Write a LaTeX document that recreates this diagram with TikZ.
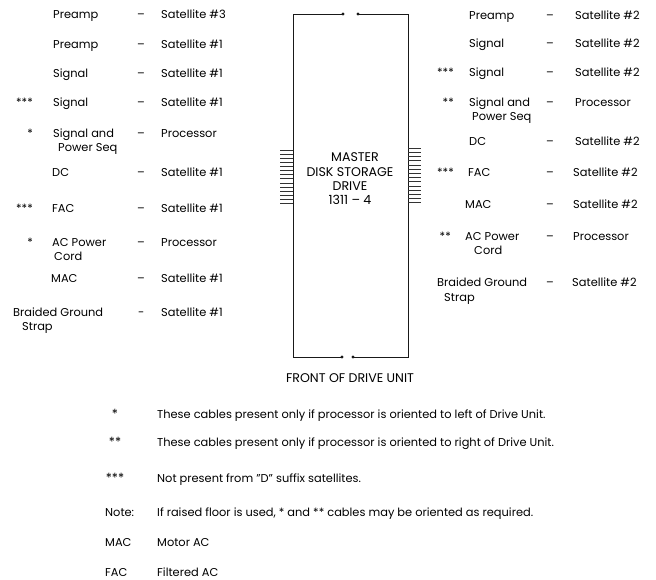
\documentclass[tikz,border=0pt]{standalone}
\usepackage{fontspec}
\setmainfont{Poppins}
\begin{document}
\begin{tikzpicture}[x=1pt,y=-1pt,
  txt/.style={inner sep=0pt,anchor=base west,font=\fontsize{11.4}{13}\selectfont,text=black},
  ctr/.style={inner sep=0pt,anchor=base,font=\fontsize{12.6}{14}\selectfont,text=black},
  star/.style={inner sep=0pt,anchor=base east,font=\fontsize{11.4}{13}\selectfont,text=black},
  boxline/.style={line width=1pt,black!90},
  hatch/.style={line width=0.6pt,black!80}]
\useasboundingbox (0,0) rectangle (656,579);
% ---------- box ----------
\coordinate (tl) at (293,14);
\coordinate (tr) at (408,14);
\coordinate (bl) at (293,357);
\coordinate (br) at (408,357);
\coordinate (tgl) at (343,14);
\coordinate (tgr) at (358,14);
\coordinate (bgl) at (342,357);
\coordinate (bgr) at (353,357);
\draw[boxline] (tgl) -- (tl) -- (bl) -- (bgl);
\draw[boxline] (tgr) -- (tr) -- (br) -- (bgr);
\foreach \c in {tgl,tgr,bgl,bgr} \fill[black!90] (\c) circle (1.6);
% hatching
\foreach \k in {0,...,13} {
  \draw[hatch] (280,{150+4.1*\k}) -- (293,{150+4.1*\k});
  \draw[hatch] (408,{148+4.2*\k}) -- (421,{148+4.2*\k});
}
\node[ctr] (m1) at (355,161) {MASTER};
\node[ctr] (m2) at (350,176) {DISK STORAGE};
\node[ctr] (m3) at (350,190) {DRIVE};
\node[ctr] (m4) at (350,204) {1311 -- 4};
\node[ctr] (front) at (350,382) {FRONT OF DRIVE UNIT};
% ---------- left column ----------
\node[txt] (l1) at (53,18) {Preamp};   \node[txt] (l1d) at (137,18) {--}; \node[txt] (l1s) at (161,18) {Satellite \#3};
\node[txt] (l2) at (53,48) {Preamp};   \node[txt] (l2d) at (137,48) {--}; \node[txt] (l2s) at (161,48) {Satellite \#1};
\node[txt] (l3) at (53,77) {Signal};   \node[txt] (l3d) at (137,77) {--}; \node[txt] (l3s) at (161,77) {Satellite \#1};
\node[star] (l4x) at (33,106) {***};
\node[txt] (l4) at (53,106) {Signal};  \node[txt] (l4d) at (137,106) {--}; \node[txt] (l4s) at (161,106) {Satellite \#1};
\node[star] (l5x) at (33,137) {*};
\node[txt] (l5) at (53,137) {Signal and}; \node[txt] (l5d) at (137,137) {--}; \node[txt] (l5s) at (161,137) {Processor};
\node[txt] (l5b) at (58,151) {Power Seq};
\node[txt] (l6) at (52,176) {DC};      \node[txt] (l6d) at (137,176) {--}; \node[txt] (l6s) at (161,176) {Satellite \#1};
\node[star] (l7x) at (33,212) {***};
\node[txt] (l7) at (52,212) {FAC};     \node[txt] (l7d) at (137,212) {--}; \node[txt] (l7s) at (161,212) {Satellite \#1};
\node[star] (l8x) at (33,246) {*};
\node[txt] (l8) at (52,246) {AC Power}; \node[txt] (l8d) at (137,246) {--}; \node[txt] (l8s) at (161,246) {Processor};
\node[txt] (l8b) at (54,260) {Cord};
\node[txt] (l9) at (51,282) {MAC};     \node[txt] (l9d) at (137,282) {--}; \node[txt] (l9s) at (161,282) {Satellite \#1};
\node[txt] (l10) at (13,316) {Braided Ground}; \node[txt] (l10d) at (138,316) {-}; \node[txt] (l10s) at (161,316) {Satellite \#1};
\node[txt] (l10b) at (22,330) {Strap};
% ---------- right column ----------
\node[txt] (r1) at (469,19) {Preamp};  \node[txt] (r1d) at (546,19) {--}; \node[txt] (r1s) at (575,19) {Satellite \#2};
\node[txt] (r2) at (469,47) {Signal};  \node[txt] (r2d) at (546,47) {--}; \node[txt] (r2s) at (575,47) {Satellite \#2};
\node[star] (r3x) at (454,76) {***};
\node[txt] (r3) at (469,76) {Signal};  \node[txt] (r3d) at (546,76) {--}; \node[txt] (r3s) at (575,76) {Satellite \#2};
\node[star] (r4x) at (454,106) {**};
\node[txt] (r4) at (469,106) {Signal and}; \node[txt] (r4d) at (546,106) {--}; \node[txt] (r4s) at (575,106) {Processor};
\node[txt] (r4b) at (472,120) {Power Seq};
\node[txt] (r5) at (469,145) {DC};      \node[txt] (r5d) at (546,145) {--}; \node[txt] (r5s) at (575,145) {Satellite \#2};
\node[star] (r6x) at (454,176) {***};
\node[txt] (r6) at (468,176) {FAC};     \node[txt] (r6d) at (546,176) {--}; \node[txt] (r6s) at (573,176) {Satellite \#2};
\node[txt] (r7) at (465,208) {MAC};     \node[txt] (r7d) at (546,208) {--}; \node[txt] (r7s) at (573,208) {Satellite \#2};
\node[star] (r8x) at (451,240) {**};
\node[txt] (r8) at (465,240) {AC Power}; \node[txt] (r8d) at (546,240) {--}; \node[txt] (r8s) at (573,240) {Processor};
\node[txt] (r8b) at (474,254) {Cord};
\node[txt] (r9) at (437,286) {Braided Ground}; \node[txt] (r9d) at (546,286) {--}; \node[txt] (r9s) at (572,286) {Satellite \#2};
\node[txt] (r9b) at (444,301) {Strap};
% ---------- legend ----------
\node[ctr] (k1x) at (115,418) {*};
\node[txt] (k1) at (157,418) {These cables present only if processor is oriented to left of Drive Unit.};
\node[ctr] (k2x) at (115,446) {**};
\node[txt] (k2) at (157,446) {These cables present only if processor is oriented to right of Drive Unit.};
\node[ctr] (k3x) at (115,482) {***};
\node[txt] (k3) at (157,482) {Not present from "D" suffix satellites.};
\node[txt] (k4x) at (105,516) {Note:};
\node[txt] (k4) at (157,516) {If raised floor is used, * and ** cables may be oriented as required.};
\node[txt] (k5x) at (105,546) {MAC};
\node[txt] (k5) at (157,546) {Motor AC};
\node[txt] (k6x) at (105,576) {FAC};
\node[txt] (k6) at (157,576) {Filtered AC};
\end{tikzpicture}
\end{document}
